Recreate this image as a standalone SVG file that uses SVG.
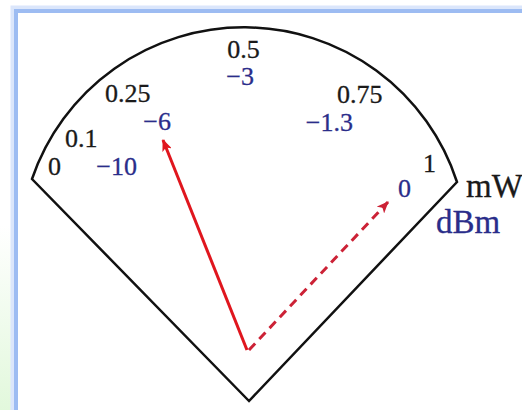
<svg xmlns="http://www.w3.org/2000/svg" width="522" height="410" viewBox="0 0 522 410">
  <defs>
    <linearGradient id="leftbg" x1="0" y1="0" x2="0" y2="1">
      <stop offset="0" stop-color="#ffffff"/>
      <stop offset="0.55" stop-color="#ffffff"/>
      <stop offset="1" stop-color="#e2f8dc"/>
    </linearGradient>
    <marker id="headSolid" viewBox="0 0 12 10" refX="11" refY="5" markerWidth="12" markerHeight="10" markerUnits="userSpaceOnUse" orient="auto">
      <path d="M0,0 L12,5 L0,10 L3,5 Z" fill="#e0161e"/>
    </marker>
    <marker id="headDash" viewBox="0 0 12 10" refX="11" refY="5" markerWidth="12" markerHeight="10" markerUnits="userSpaceOnUse" orient="auto">
      <path d="M0,0 L12,5 L0,10 L3,5 Z" fill="#cc2236"/>
    </marker>
  </defs>
  <style>
    .num { font-family: "Liberation Serif", "DejaVu Serif", serif; font-size: 26px; fill: #1a1a1a; stroke: #1a1a1a; stroke-width: 0.3; }
    .db { font-family: "Liberation Serif", "DejaVu Serif", serif; font-size: 26px; fill: #2a2d8a; stroke: #2a2d8a; stroke-width: 0.3; }
    .unit { font-family: "Liberation Serif", "DejaVu Serif", serif; font-size: 33px; stroke-width: 0.3; }
    .outline { fill: none; stroke: #111; stroke-width: 2.5; stroke-linejoin: miter; }
  </style>
  <rect x="0" y="0" width="522" height="410" fill="#ffffff"/>
  <rect x="0" y="0" width="14" height="410" fill="url(#leftbg)"/>
  <g id="frame">
    <path d="M14,410 V9 H522" fill="none" stroke="#dbe6fb" stroke-width="7"/>
    <path d="M16,410 V11 H522" fill="none" stroke="#9dbcf2" stroke-width="4"/>
  </g>
  <g id="dial">
    <path class="outline" d="M249,401 L32,179 A224,224 0 0 1 457,182 Z"/>
  </g>
  <g id="mw-scale">
    <text class="num" x="48" y="175">0</text>
    <text class="num" x="65" y="147">0.1</text>
    <text class="num" x="105" y="102">0.25</text>
    <text class="num" x="243.5" y="58" text-anchor="middle">0.5</text>
    <text class="num" x="337" y="103">0.75</text>
    <text class="num" x="423" y="172">1</text>
    <text class="unit" x="466" y="197" fill="#1a1a1a" stroke="#1a1a1a">mW</text>
  </g>
  <g id="dbm-scale">
    <text class="db" x="137" y="175" text-anchor="end">−10</text>
    <text class="db" x="171" y="130" text-anchor="end">−6</text>
    <text class="db" x="254" y="85" text-anchor="end">−3</text>
    <text class="db" x="353" y="131" text-anchor="end">−1.3</text>
    <text class="db" x="398" y="197">0</text>
    <text class="unit" x="436" y="233" fill="#2a2d8a" stroke="#2a2d8a">dBm</text>
  </g>
  <g id="connectors">
    <line x1="247" y1="350" x2="163" y2="140" stroke="#e0161e" stroke-width="3" marker-end="url(#headSolid)"/>
    <line x1="249" y1="350" x2="388" y2="202" stroke="#cc2236" stroke-width="3" stroke-dasharray="9,6" marker-end="url(#headDash)"/>
  </g>
</svg>
